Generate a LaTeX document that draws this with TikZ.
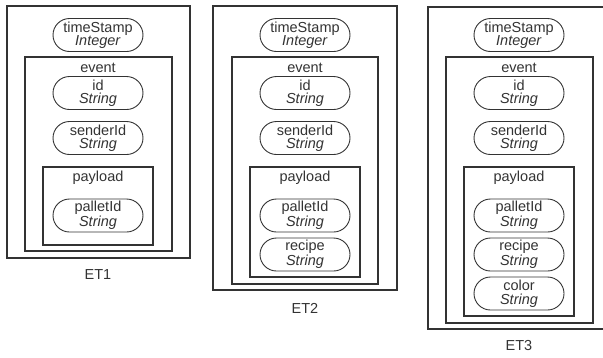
\documentclass[tikz,border=0pt]{standalone}
\usepackage{fontspec}
\setmainfont{Liberation Sans}
\usetikzlibrary{shapes.misc}
\definecolor{linegray}{HTML}{333333}
\begin{document}
\begin{tikzpicture}[x=1pt,y=-1pt,
    field/.style={draw=linegray, line width=0.9pt, rounded rectangle,
      minimum width=92pt, minimum height=33pt, inner sep=1pt,
      align=center, font=\fontsize{14.5}{13.5}\selectfont, text=linegray},
    frame/.style={draw=linegray, line width=1.1pt},
    caption/.style={font=\fontsize{14.5}{14}\selectfont, text=linegray}]
  \useasboundingbox (0,0) rectangle (603,357);
  % ET1
  \draw[frame] (7,6) rectangle (190,258);
  \draw[frame] (25,57) rectangle (172,251);
  \draw[frame] (43,167) rectangle (153,245);
  \node[field] (ts1) at (98,35) {timeStamp\\\textit{Integer}};
  \node[caption] (ev1) at (98,68) {event};
  \node[field] (id1) at (98,93) {id\\\textit{String}};
  \node[field] (snd1) at (98,138) {senderId\\\textit{String}};
  \node[caption] (pl1) at (98,178) {payload};
  \node[field] (pal1) at (98,215.5) {palletId\\\textit{String}};
  \node[caption] (et1) at (98,275) {ET1};
  % ET2
  \draw[frame] (213,6) rectangle (397,290);
  \draw[frame] (232,57) rectangle (378,284);
  \draw[frame] (250,167) rectangle (360,277);
  \node[field] (ts2) at (305,35) {timeStamp\\\textit{Integer}};
  \node[caption] (ev2) at (305,68) {event};
  \node[field] (id2) at (305,93) {id\\\textit{String}};
  \node[field] (snd2) at (305,138) {senderId\\\textit{String}};
  \node[caption] (pl2) at (305,178) {payload};
  \node[field] (pal2) at (305,215.5) {palletId\\\textit{String}};
  \node[field] (rec2) at (305,254.5) {recipe\\\textit{String}};
  \node[caption] (et2) at (305,308) {ET2};
  % ET3
  \draw[frame] (428,7) rectangle (610,329);
  \draw[frame] (446,57) rectangle (593,323);
  \draw[frame] (464,167) rectangle (574,316);
  \node[field] (ts3) at (519,35) {timeStamp\\\textit{Integer}};
  \node[caption] (ev3) at (519,68) {event};
  \node[field] (id3) at (519,93) {id\\\textit{String}};
  \node[field] (snd3) at (519,138) {senderId\\\textit{String}};
  \node[caption] (pl3) at (519,178) {payload};
  \node[field] (pal3) at (519,215.5) {palletId\\\textit{String}};
  \node[field] (rec3) at (519,254.5) {recipe\\\textit{String}};
  \node[field] (col3) at (519,293.5) {color\\\textit{String}};
  \node[caption] (et3) at (519,346) {ET3};
\end{tikzpicture}
\end{document}
